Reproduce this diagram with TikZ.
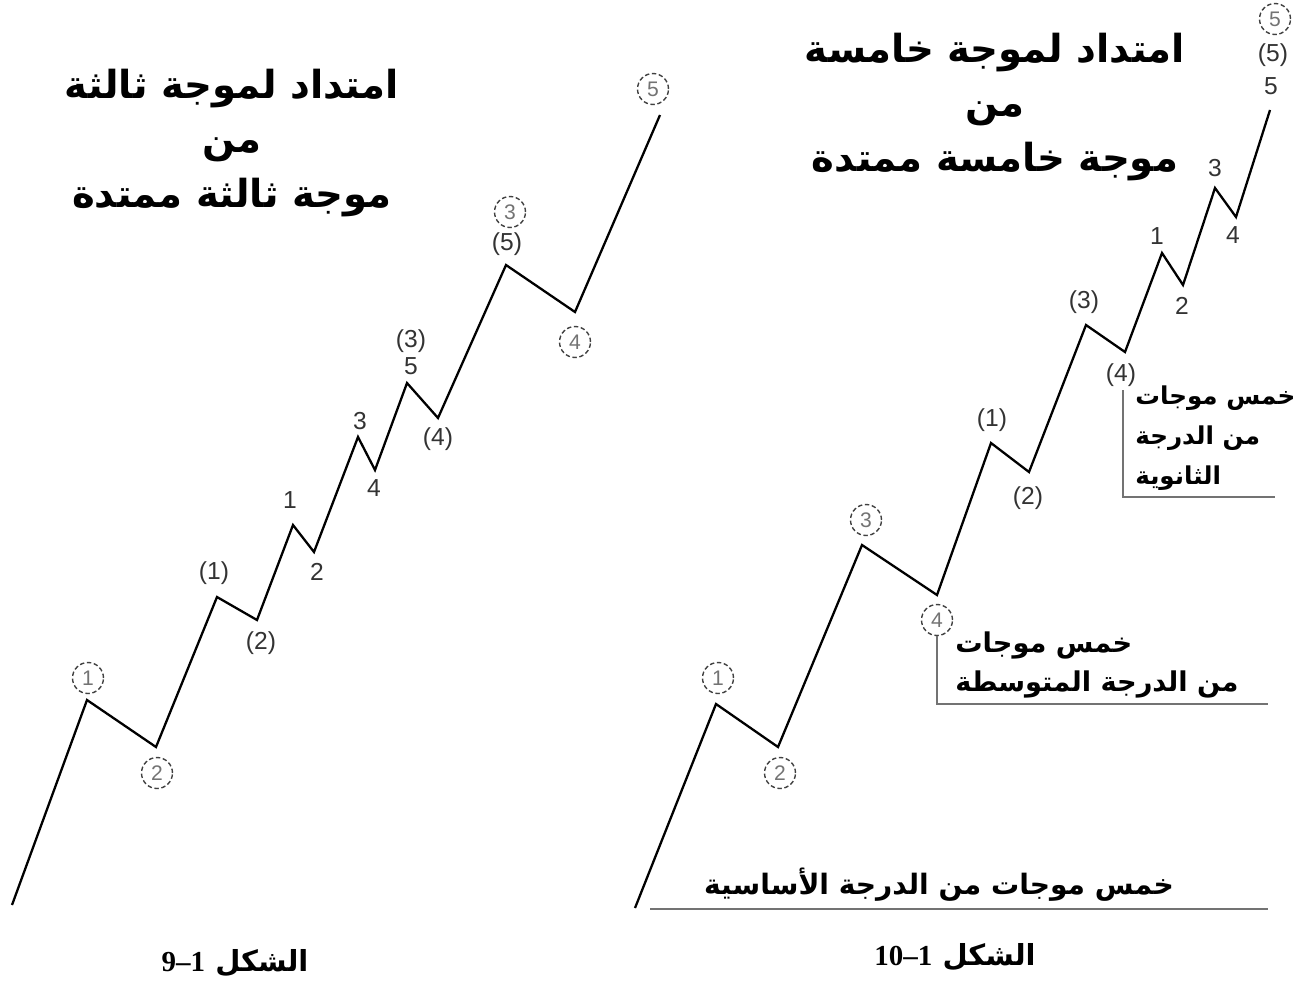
\documentclass[tikz,border=0pt]{standalone}
\usepackage{fontspec}
\setmainfont{Liberation Sans}
\newfontfamily\arabicfont[Script=Arabic]{DejaVu Sans}
\newfontfamily\capnum{Liberation Serif}
\TeXXeTstate=1
\usetikzlibrary{positioning}

\tikzset{
  wave/.style={line width=1.3pt, line join=miter},
  num/.style={font=\fontsize{14}{14}\selectfont, text=black!80, inner sep=0pt},
  circnum/.style={circle, draw=black!75, dash pattern=on 2.5pt off 1.5pt, line width=0.8pt,
    minimum size=0.62cm, inner sep=0pt, font=\fontsize{12}{12}\selectfont, text=black!55},
  headtext/.style={font=\arabicfont\bfseries\fontsize{22}{31}\selectfont, align=center},
  notetext/.style={font=\arabicfont\bfseries\fontsize{14}{22.7}\selectfont, align=left, inner sep=0pt},
  degline/.style={line width=1.6pt, black!55}
}

\begin{document}
\begin{tikzpicture}[x=0.02cm, y=-0.02cm]
  \useasboundingbox (0,0) rectangle (1315,981);

  % left chart: third wave extended
  \foreach \n/\x/\y in {a0/12/905, a1/87/700, a2/156/747, a3/217/597, a4/257/620,
      a5/293/525, a6/314/552, a7/358/437, a8/375/470, a9/407/383, a10/438/418,
      a11/506/265, a12/575/312, a13/660/115}
    \coordinate (\n) at (\x,\y);
  \draw[wave] (a0) -- (a1) -- (a2) -- (a3) -- (a4) -- (a5) -- (a6) -- (a7)
    -- (a8) -- (a9) -- (a10) -- (a11) -- (a12) -- (a13);

  \foreach \n/\x/\y/\t in {lc1/88/678/1, lc2/157/773/2, lc3/510/212/3, lc4/575/342/4, lc5/653/89/5}
    \node[circnum] (\n) at (\x,\y) {\t};
  \foreach \n/\x/\y/\t in {li1/214/573/(1), li2/261/643/(2), ls1/290/500/1, ls2/317/572/2,
      ls3/360/421/3, ls4/374/488/4, ls5/411/366/5, li3/411/341/(3), li4/438/439/(4), li5/507/244/(5)}
    \node[num] (\n) at (\x,\y) {\t};

  % right chart: fifth wave extended
  \foreach \n/\x/\y in {b0/635/908, b1/716/704, b2/778/747, b3/862/545, b4/937/595,
      b5/991/443, b6/1029/472, b7/1086/325, b8/1125/352, b9/1162/253, b10/1183/285,
      b11/1215/188, b12/1236/217, b13/1270/110}
    \coordinate (\n) at (\x,\y);
  \draw[wave] (b0) -- (b1) -- (b2) -- (b3) -- (b4) -- (b5) -- (b6) -- (b7)
    -- (b8) -- (b9) -- (b10) -- (b11) -- (b12) -- (b13);

  \foreach \n/\x/\y/\t in {rc1/718/678/1, rc2/780/773/2, rc3/866/520/3, rc4/937/620/4, rc5/1275/19/5}
    \node[circnum] (\n) at (\x,\y) {\t};
  \foreach \n/\x/\y/\t in {ri1/992/420/(1), ri2/1028/498/(2), ri3/1084/302/(3), ri4/1121/375/(4),
      rs1/1157/236/1, rs2/1182/306/2, rs3/1215/168/3, rs4/1233/235/4, rs5/1271/86/5, ri5/1273/55/(5)}
    \node[num] (\n) at (\x,\y) {\t};

  % titles
  \node[headtext] (lhead) at (232,143) {\beginR امتداد لموجة ثالثة\endR\\\beginR من\endR\\\beginR موجة ثالثة ممتدة\endR};
  \node[headtext] (rhead) at (995,107) {\beginR امتداد لموجة خامسة\endR\\\beginR من\endR\\\beginR موجة خامسة ممتدة\endR};

  % degree notes
  \node[notetext, anchor=west] (minor) at (1135,438) {\beginR خمس موجات\endR\\\beginR من الدرجة\endR\\\beginR الثانوية\endR};
  \draw[degline] (1123,390) -- (1123,497) -- (1275,497);
  \node[notetext, font=\arabicfont\bfseries\fontsize{15.5}{22.7}\selectfont, anchor=west] (interm) at (955,665)
    {\beginR خمس موجات\endR\\\beginR من الدرجة المتوسطة\endR};
  \draw[degline] (937,636) -- (937,704) -- (1268,704);
  \node[notetext, font=\arabicfont\bfseries\fontsize{16}{20}\selectfont] (primary) at (939,885) {\beginR خمس موجات من الدرجة الأساسية\endR};
  \draw[degline] (650,909) -- (1268,909);

  % captions
  \node[notetext, font=\arabicfont\bfseries\fontsize{16.5}{20}\selectfont] (lcap) at (235,963)
    {\beginR الشكل \beginL{\capnum\bfseries 9–1}\endL\endR};
  \node[notetext, font=\arabicfont\bfseries\fontsize{16.5}{20}\selectfont] (rcap) at (955,957)
    {\beginR الشكل \beginL{\capnum\bfseries 10–1}\endL\endR};
\end{tikzpicture}
\end{document}
